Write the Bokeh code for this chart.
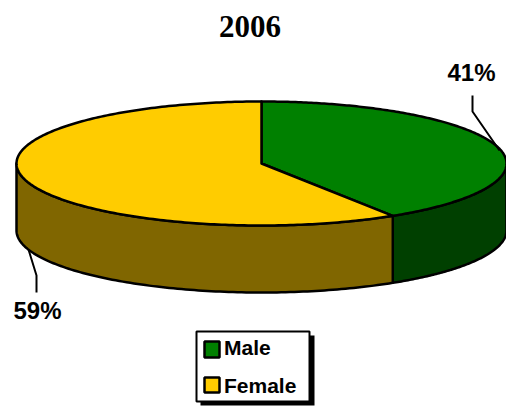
import numpy as np
from bokeh.plotting import figure
from bokeh.models import Range1d
from bokeh.core.properties import value
from bokeh.embed import file_html
from bokeh.resources import INLINE

title_text = "2006"
categories = ["Male", "Female"]
shares = [41, 59]
share_labels = ["41%", "59%"]

TOP = ["#008000", "#FFCC00"]
SIDE = ["#004000", "#806600"]
cx, cy, rx, ry, depth = 261, 163, 245, 62, 67
LW = 2.5

p = figure(width=506, height=406, output_backend="svg", toolbar_location=None,
           x_range=Range1d(0, 506), y_range=Range1d(406, 0),
           min_border=0, outline_line_color=None, background_fill_color="white",
           border_fill_color="white")
p.xaxis.visible = False
p.yaxis.visible = False
p.grid.visible = False


def ell(a, dy=0):
    return cx + rx * np.sin(a), cy + dy + ry * -np.cos(a)


total = sum(shares)
edges = np.concatenate([[0], np.cumsum(shares)]) / total * 2 * np.pi

# side walls (only the front half of the ellipse is visible)
for i in range(len(shares)):
    a0 = max(edges[i], np.pi / 2)
    a1 = min(edges[i + 1], 3 * np.pi / 2)
    if a1 <= a0:
        continue
    a = np.linspace(a0, a1, 120)
    xt, yt = ell(a)
    xb, yb = ell(a, depth)
    p.patch(np.r_[xt, xb[::-1]], np.r_[yt, yb[::-1]], fill_color=SIDE[i],
            line_color="black", line_width=LW, line_join="round")

# top slices
for i in range(len(shares)):
    a = np.linspace(edges[i], edges[i + 1], 240)
    xt, yt = ell(a)
    p.patch(np.r_[cx, xt], np.r_[cy, yt], fill_color=TOP[i],
            line_color="black", line_width=LW, line_join="round")

# leader lines
p.line([472, 472, 499], [95, 111, 150], line_color="black", line_width=2)
p.line([36, 36, 28], [292, 275, 249], line_color="black", line_width=2)

# title + value labels
p.text([249.5], [26], text=[title_text], text_font=value("Liberation Serif"),
       text_font_style="bold", text_font_size="31px", text_color="black",
       text_align="center", text_baseline="middle")
p.text([471, 37], [72, 310], text=share_labels, text_font=value("Liberation Sans"),
       text_font_style="bold", text_font_size="24px", text_color="black",
       text_align="center", text_baseline="middle")

# legend
p.quad(left=[200], right=[314], top=[335], bottom=[405], fill_color="black", line_color=None)
p.quad(left=[196], right=[309], top=[331], bottom=[401], fill_color="white",
       line_color="black", line_width=2)
p.quad(left=[204, 204], right=[219, 219], top=[341, 377], bottom=[357, 392],
       fill_color=TOP, line_color="black", line_width=2.5)
p.text([223.5, 223.5], [347, 384.5], text=categories, text_font=value("Liberation Sans"),
       text_font_style="bold", text_font_size="21px", text_color="black",
       text_align="left", text_baseline="middle")

open("out.html", "w").write(file_html(p, INLINE))
